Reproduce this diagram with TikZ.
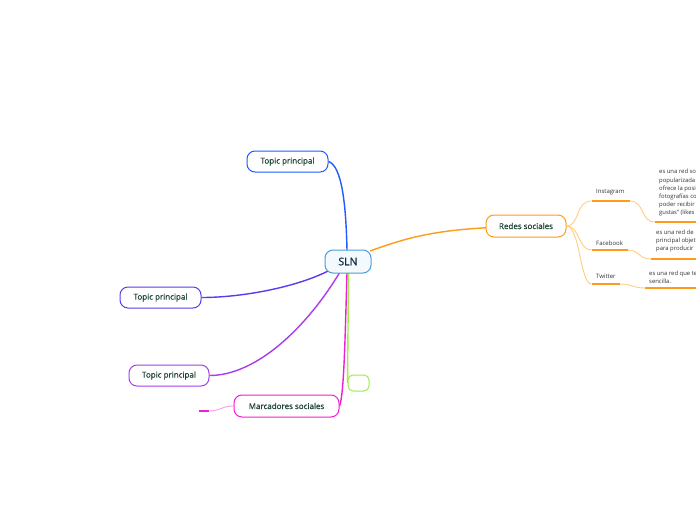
\documentclass[tikz,border=0pt]{standalone}
\usepackage{fontspec}
\setmainfont{Open Sans}
\newfontfamily\topicfont{Open Sans}[UprightFeatures={FakeBold=0.6}]
\usetikzlibrary{backgrounds}
\definecolor{topictext}{HTML}{1E4535}
\definecolor{slntext}{HTML}{0F2A44}
\definecolor{slnborder}{HTML}{4C9ED9}
\definecolor{slnfill}{HTML}{F4F9FD}
\definecolor{cblue}{HTML}{1F5BFF}
\definecolor{cindigo}{HTML}{5B3BF0}
\definecolor{cpurple}{HTML}{A93BF0}
\definecolor{cmagenta}{HTML}{F01FD0}
\definecolor{cpink}{HTML}{F7A0EC}
\definecolor{cgreen}{HTML}{9EEE44}
\definecolor{corange}{HTML}{FF9A1A}
\definecolor{clightorange}{HTML}{FFCF80}
\definecolor{bodytext}{HTML}{333333}
\tikzset{
  topicbox/.style={draw=#1, line width=1pt, fill=white, rounded corners=8pt,
    minimum height=21pt, inner sep=0pt, text=topictext,
    font=\topicfont\fontsize{8}{9}\selectfont},
  mainconn/.style={draw=#1, line width=1.4pt},
  subconn/.style={draw=clightorange, line width=0.9pt},
  underline/.style={draw=corange, line width=1.6pt},
  sublabel/.style={inner sep=0pt, anchor=west, text=bodytext, font=\fontsize{6}{7}\selectfont},
  bodyblock/.style={inner sep=0pt, anchor=south west, align=left, text=bodytext, font=\fontsize{5.9}{8.2}\selectfont},
}
\begin{document}
\begin{tikzpicture}[x=1pt,y=-1pt]
\clip (0,0) rectangle (696,520);

% nodes
\node[topicbox=slnborder, fill=slnfill, minimum width=46pt, minimum height=23pt, text=slntext,
      font=\topicfont\fontsize{10.5}{12}\selectfont] (sln) at (348,261.5) {SLN};
\node[topicbox=cblue, minimum width=81pt] (tp1) at (287.5,161.5) {Topic principal};
\node[topicbox=cindigo, minimum width=81pt] (tp2) at (160.5,297.5) {Topic principal};
\node[topicbox=cpurple, minimum width=80pt] (tp3) at (169,375.5) {Topic principal};
\node[topicbox=cmagenta, minimum width=105pt, minimum height=22pt] (marc) at (286.5,406) {Marcadores sociales};
\node[draw=cgreen, line width=1pt, rounded corners=5pt, minimum width=21pt, minimum height=16pt, inner sep=0pt] (green) at (358.5,383) {};
\node[topicbox=corange, minimum width=80pt, minimum height=22pt] (redes) at (526,226) {Redes sociales};

\coordinate (slnTop) at (347,250);
\coordinate (slnBL) at (330,270);
\coordinate (slnB1) at (340,272);
\coordinate (slnB2) at (347,273);
\coordinate (slnB3) at (348.5,273);
\coordinate (slnR) at (370,251);
\coordinate (mstubR) at (209,411);
\coordinate (mstubL) at (199,411);

\begin{scope}[on background layer]
\fill[white] (0,0) rectangle (696,520);
\draw[mainconn=cblue] (slnTop) .. controls (346,205) and (342,166) .. (tp1.east);
\draw[mainconn=cindigo] (slnBL) .. controls (300,286) and (245,297.5) .. (tp2.east);
\draw[mainconn=cpurple] (slnB1) .. controls (305,330) and (255,375.5) .. (tp3.east);
\draw[mainconn=cmagenta] (slnB2) .. controls (345,340) and (344,395) .. (marc.east);
\draw[mainconn=cgreen] (slnB3) -- (green.west);
\draw[mainconn=corange] (slnR) .. controls (420,233) and (450,226) .. (redes.east);
\draw[draw=cpink, line width=0.9pt] (marc.west) .. controls (222,406) and (220,411) .. (mstubR);
\end{scope}
\draw[draw=cmagenta, line width=1.6pt] (mstubL) -- (mstubR);

% subtopics
\coordinate (igL) at (591.5,201);
\coordinate (igR) at (630,201);
\coordinate (fbL) at (591.5,250);
\coordinate (fbR) at (628,250);
\coordinate (twL) at (591.5,284);
\coordinate (twR) at (620,284);
\coordinate (igTL) at (655,222);
\coordinate (igTR) at (696,222);
\coordinate (fbTL) at (651,259);
\coordinate (fbTR) at (696,259);
\coordinate (twTL) at (645,288);
\coordinate (twTR) at (696,288);

\draw[subconn] (redes.east) .. controls (580,226) and (575,201) .. (igL);
\draw[subconn] (redes.east) .. controls (580,226) and (578,250) .. (fbL);
\draw[subconn] (redes.east) .. controls (580,226) and (580,284) .. (twL);
\draw[subconn] (igR) .. controls (645,201) and (640,222) .. (igTL);
\draw[subconn] (fbR) .. controls (640,250) and (638,259) .. (fbTL);
\draw[subconn] (twR) .. controls (633,284) and (632,288) .. (twTL);

\draw[underline] (igL) -- (igR);
\draw[underline] (fbL) -- (fbR);
\draw[underline] (twL) -- (twR);
\draw[underline] (igTL) -- (igTR);
\draw[underline] (fbTL) -- (fbTR);
\draw[underline] (twTL) -- (twTR);

\node[sublabel] (ig) at (596,192.5) {Instagram};
\node[sublabel] (fb) at (596,243) {Facebook};
\node[sublabel] (tw) at (596,276) {Twitter};

\node[bodyblock] (igtext) at (659,216.5) {es una red so\\popularizada\\ofrece la posi\\fotografías co\\poder recibir\\gustas” (likes};
\node[bodyblock] (fbtext) at (656,252.5) {es una red de\\principal objet\\para producir};
\node[bodyblock] (twtext) at (649,284) {es una red que te\\sencilla.};
\end{tikzpicture}
\end{document}
